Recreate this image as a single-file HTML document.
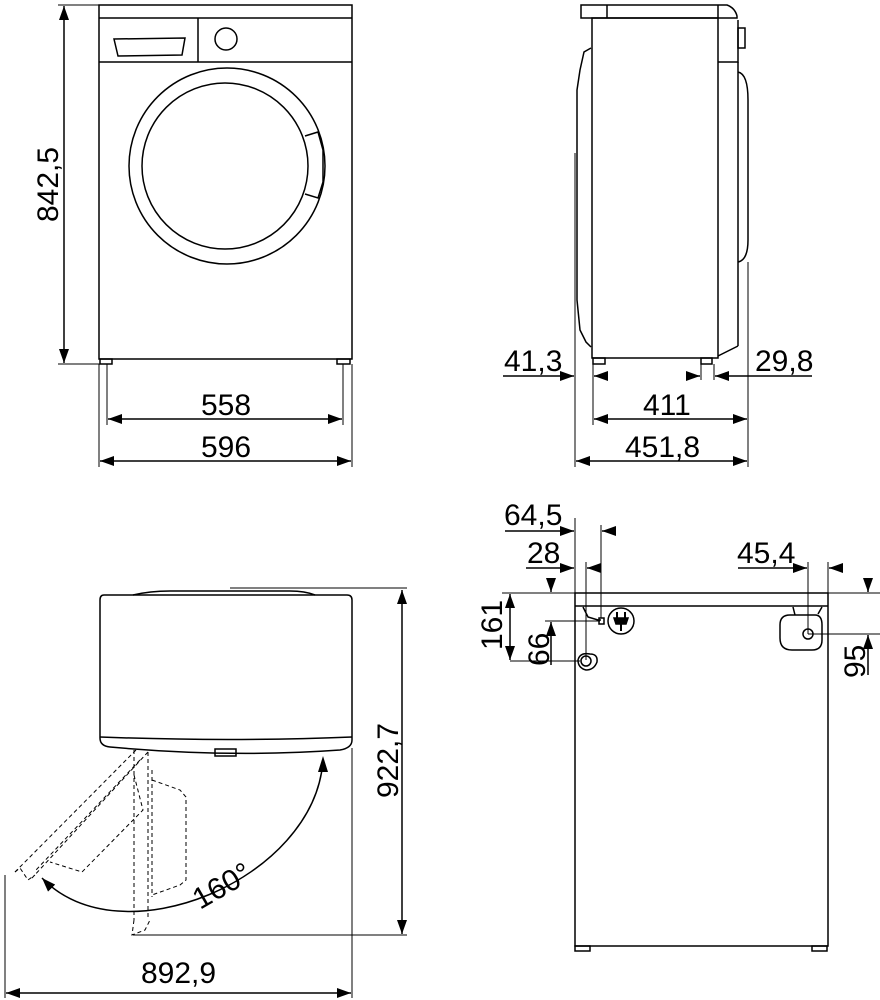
<!DOCTYPE html>
<html><head><meta charset="utf-8"><style>
html,body{margin:0;padding:0;background:#fff}
svg{display:block}
text{font-family:"Liberation Sans",sans-serif;font-size:30px;fill:#000}
</style></head><body>
<svg width="880" height="1000" viewBox="0 0 880 1000" xmlns="http://www.w3.org/2000/svg">
<defs>
<marker id="a" viewBox="0 0 14 10" refX="14" refY="5" markerWidth="14" markerHeight="10" markerUnits="userSpaceOnUse" orient="auto"><path d="M0,0 L14,5 L0,10 Z" fill="#000"/></marker>
<marker id="b" viewBox="0 0 14 10" refX="0" refY="5" markerWidth="14" markerHeight="10" markerUnits="userSpaceOnUse" orient="auto"><path d="M14,0 L0,5 L14,10 Z" fill="#000"/></marker>
</defs>
<g fill="none" stroke="#000" stroke-width="1.5">
<!-- FRONT VIEW -->
<rect x="99" y="5" width="253" height="354"/>
<line x1="99" y1="18" x2="352" y2="18"/>
<line x1="99" y1="62" x2="352" y2="62"/>
<line x1="198" y1="18" x2="198" y2="62"/>
<path d="M114,39 L185,38 L182,55 L118,56 Z"/>
<circle cx="226" cy="39" r="11"/>
<circle cx="227" cy="166" r="98"/>
<circle cx="225" cy="166" r="83"/>
<path d="M305,136 L318,132 L323,150 L323,182 L318,198 L305,194"/>
<rect x="100" y="359" width="12" height="5"/>
<rect x="337" y="359" width="13" height="5"/>
</g>
<g stroke="#000" stroke-width="1" fill="none">
<line x1="58" y1="5" x2="99" y2="5"/>
<line x1="58" y1="364" x2="100" y2="364"/>
<line x1="99" y1="364" x2="99" y2="467"/>
<line x1="107" y1="364" x2="107" y2="425"/>
<line x1="343" y1="364" x2="343" y2="425"/>
<line x1="352" y1="364" x2="352" y2="467"/>
</g>
<g stroke="#000" stroke-width="1.5">
<line x1="64" y1="6" x2="64" y2="363" marker-start="url(#b)" marker-end="url(#a)"/>
<line x1="108" y1="419" x2="342" y2="419" marker-start="url(#b)" marker-end="url(#a)"/>
<line x1="100" y1="461" x2="351" y2="461" marker-start="url(#b)" marker-end="url(#a)"/>
</g>
<text transform="translate(58,222) rotate(-90)">842,5</text>
<text x="201" y="415">558</text>
<text x="201" y="457">596</text>

<!-- SIDE VIEW -->
<g fill="none" stroke="#000" stroke-width="1.5">
<path d="M581,5 L727,5 Q735,8 737,16 L737,18 L581,18 Z"/>
<line x1="607" y1="5" x2="607" y2="18"/>
<line x1="718" y1="5" x2="718" y2="18"/>
<rect x="592" y="18" width="126" height="340"/>
<path d="M591,48 L584,52 L580,70 L577,90 L577,300 L580,330 L586,342 L591,347"/>
<path d="M718,62 L738,62 L738,20"/>
<rect x="738" y="28" width="7" height="20"/>
<path d="M738,72 Q748,74 748,100 L748,240 Q748,260 738,262"/>
<line x1="738" y1="62" x2="738" y2="346"/>
<path d="M738,346 L718,356"/>
<rect x="593" y="358" width="12" height="6"/>
<rect x="701" y="358" width="11" height="6"/>
</g>
<g stroke="#000" stroke-width="1" fill="none">
<line x1="575" y1="153" x2="575" y2="467"/>
<line x1="593" y1="364" x2="593" y2="425"/>
<line x1="701" y1="364" x2="701" y2="380"/>
<line x1="714" y1="364" x2="714" y2="380"/>
<line x1="748" y1="262" x2="748" y2="467"/>
</g>
<g stroke="#000" stroke-width="1.5">
<line x1="503" y1="376" x2="574" y2="376" marker-end="url(#a)"/>
<line x1="607" y1="376" x2="594" y2="376" marker-end="url(#a)"/>
<line x1="687" y1="376" x2="700" y2="376" marker-end="url(#a)"/>
<line x1="812" y1="376" x2="715" y2="376" marker-end="url(#a)"/>
<line x1="594" y1="419" x2="747" y2="419" marker-start="url(#b)" marker-end="url(#a)"/>
<line x1="576" y1="461" x2="747" y2="461" marker-start="url(#b)" marker-end="url(#a)"/>
</g>
<text x="504" y="371">41,3</text>
<text x="755" y="371">29,8</text>
<text x="643" y="415">411</text>
<text x="625" y="457">451,8</text>

<!-- TOP VIEW -->
<g fill="none" stroke="#000" stroke-width="1.5">
<path d="M104,595 L347,595 Q352,595 352,600 L352,740 Q352,748 340,750 Q230,758 110,747 Q100,746 100,738 L100,600 Q100,595 104,595 Z"/>
<path d="M100,737 Q230,742 352,737"/>
<path d="M133,595 Q150,591 170,591 L290,591 Q305,591 315,595"/>
<rect x="215" y="749" width="21" height="7"/>
<path d="M323,760 C315,880 120,960 42,878" marker-end="url(#a)"/>
</g>
<path d="M323,756 L318,772 L328,772 Z" fill="#000"/>
<g fill="none" stroke="#000" stroke-width="1" stroke-dasharray="4,3">
<line x1="136" y1="750" x2="15" y2="872"/>
<line x1="148" y1="752" x2="32" y2="878"/>
<line x1="140" y1="760" x2="36" y2="870"/>
<path d="M134,775 L143,810 L82,872 L50,862"/>
<line x1="134" y1="750" x2="134" y2="920"/>
<line x1="148" y1="752" x2="148" y2="920"/>
<line x1="152" y1="770" x2="152" y2="897"/>
<path d="M152,780 L180,790 L186,797 L186,880 L180,885 L152,895"/>
<path d="M15,872 L20,868 L28,880 L35,875"/>
<path d="M134,920 L132,935 L145,930 L150,920"/>
</g>
<g stroke="#000" stroke-width="1" fill="none">
<line x1="230" y1="588" x2="407" y2="588"/>
<line x1="133" y1="935" x2="407" y2="935"/>
<line x1="5" y1="875" x2="5" y2="998"/>
<line x1="352" y1="748" x2="352" y2="998"/>
</g>
<g stroke="#000" stroke-width="1.5">
<line x1="402" y1="590" x2="402" y2="934" marker-start="url(#b)" marker-end="url(#a)"/>
<line x1="6" y1="993" x2="351" y2="993" marker-start="url(#b)" marker-end="url(#a)"/>
</g>
<text transform="translate(398,798) rotate(-90)">922,7</text>
<text x="141" y="983">892,9</text>
<text transform="translate(200,910) rotate(-30)">160°</text>

<!-- BACK VIEW -->
<g fill="none" stroke="#000" stroke-width="1.5">
<rect x="575" y="593" width="253" height="353"/>
<line x1="575" y1="606" x2="828" y2="606"/>
<path d="M583,607 L588,617 L598,620 L601,620"/>
<rect x="599" y="618" width="5" height="6"/>
<circle cx="621" cy="621" r="13"/>
<path d="M617,612 L617,618 M625,612 L625,618" stroke-width="2"/>
<path d="M614,618 L628,618 L626,624 L616,624 Z" fill="#000"/>
<line x1="621" y1="624" x2="621" y2="631" stroke-width="2"/>
<path d="M578,660 Q580,652 590,654 Q598,654 597,662 Q594,670 586,670 Q578,668 578,660 Z"/>
<circle cx="586" cy="661" r="5"/>
<path d="M793,607 L795,615 M822,607 L818,614"/>
<path d="M790,615 L815,615 Q822,615 822,625 L822,640 Q822,650 812,650 L792,650 Q780,650 780,638 L780,625 Q780,615 790,615 Z"/>
<circle cx="808" cy="634" r="5"/>
<rect x="575" y="946" width="15" height="5"/>
<rect x="812" y="946" width="15" height="5"/>
</g>
<g stroke="#000" stroke-width="1" fill="none">
<line x1="575" y1="518" x2="575" y2="593"/>
<line x1="601" y1="525" x2="601" y2="618"/>
<line x1="586" y1="562" x2="586" y2="660"/>
<line x1="808" y1="562" x2="808" y2="634"/>
<line x1="828" y1="562" x2="828" y2="593"/>
<line x1="502" y1="593" x2="575" y2="593"/>
<line x1="828" y1="593" x2="880" y2="593"/>
<line x1="545" y1="621" x2="600" y2="621"/>
<line x1="510" y1="661" x2="580" y2="661"/>
<line x1="808" y1="634" x2="880" y2="634"/>
</g>
<g stroke="#000" stroke-width="1.5">
<line x1="505" y1="531" x2="574" y2="531" marker-end="url(#a)"/>
<line x1="616" y1="531" x2="602" y2="531" marker-end="url(#a)"/>
<line x1="526" y1="568" x2="574" y2="568" marker-end="url(#a)"/>
<line x1="600" y1="568" x2="587" y2="568" marker-end="url(#a)"/>
<line x1="738" y1="568" x2="807" y2="568" marker-end="url(#a)"/>
<line x1="842" y1="568" x2="829" y2="568" marker-end="url(#a)"/>
<line x1="510" y1="594" x2="510" y2="660" marker-start="url(#b)" marker-end="url(#a)"/>
<line x1="551" y1="578" x2="551" y2="592" marker-end="url(#a)"/>
<line x1="551" y1="665" x2="551" y2="622" marker-end="url(#a)"/>
<line x1="868" y1="578" x2="868" y2="592" marker-end="url(#a)"/>
<line x1="868" y1="675" x2="868" y2="635" marker-end="url(#a)"/>
</g>
<text x="504" y="525">64,5</text>
<text x="527" y="563">28</text>
<text x="737" y="563">45,4</text>
<text transform="translate(502,650) rotate(-90)">161</text>
<text transform="translate(549,666) rotate(-90)">66</text>
<text transform="translate(865,678) rotate(-90)">95</text>
</svg>
</body></html>
